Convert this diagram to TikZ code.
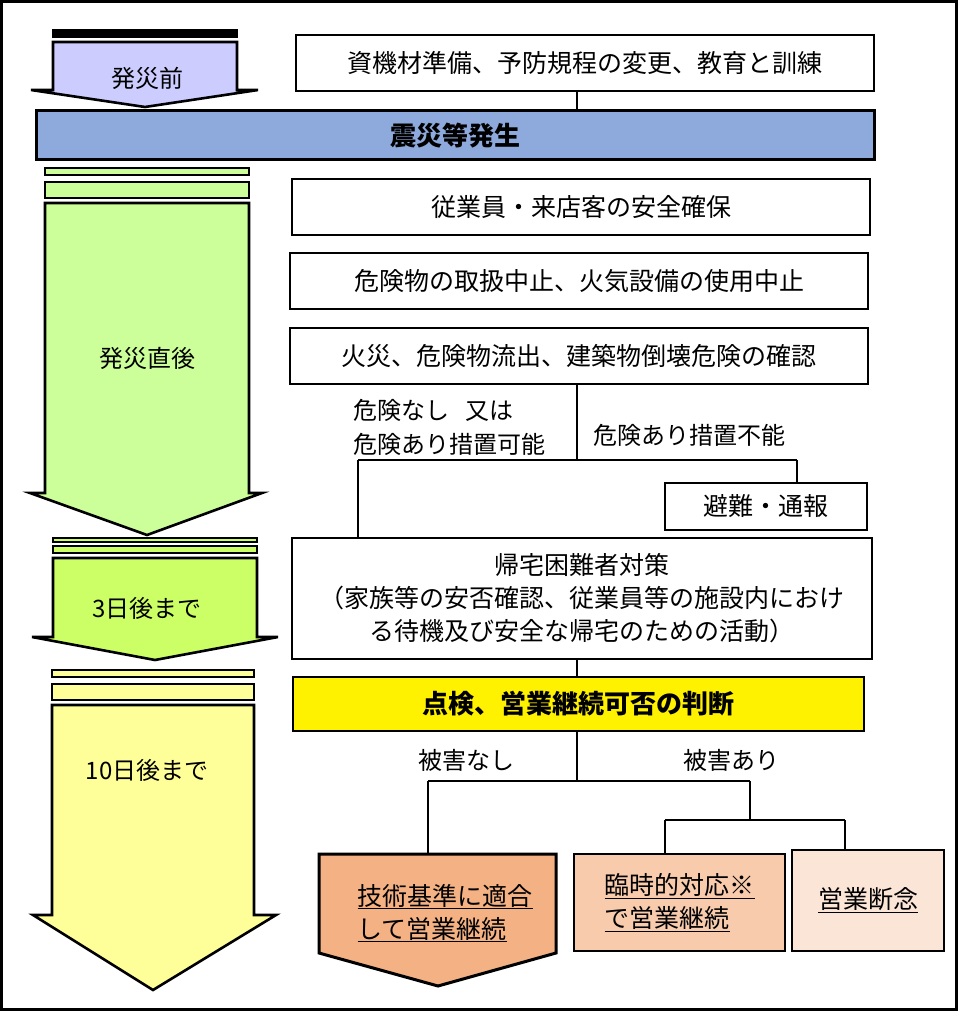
\documentclass[tikz,border=0pt]{standalone}
\usepackage{fontspec}
\setmainfont{Noto Sans CJK JP}
\usetikzlibrary{calc}
\definecolor{lav}{HTML}{CCCCFF}
\definecolor{lgreen}{HTML}{CCFF99}
\definecolor{mgreen}{HTML}{CCFF66}
\definecolor{lyellow}{HTML}{FFFF99}
\definecolor{band}{HTML}{8EA9DB}
\definecolor{orA}{HTML}{F4B183}
\definecolor{orB}{HTML}{F8CBAD}
\definecolor{orC}{HTML}{FBE5D6}
\newcommand{\phase}[9] % x1, x2, stripe top, body top, wing y, wx1, wx2, tip y, colour
{
	% stripes
	\draw[line width=2.6pt,fill=#9] (#1,#3) rectangle (#2,{#3+(#4-#3)*0.2});
	\draw[line width=2.6pt,fill=#9] (#1,{#3+(#4-#3)*0.4}) rectangle (#2,#4-5);
	% body with arrow head
	\draw[line width=2.6pt,fill=#9,line join=miter] (#1,#4) -- (#2,#4) -- (#2,#5) -- (#7,#5)
		-- ({(#1+#2)/2},#8) -- (#6,#5) -- (#1,#5) -- cycle;
}
\tikzset{
	box/.style={draw,line width=1.4pt,fill=white,font=\fontsize{25}{33}\selectfont,align=center,inner sep=0pt},
	wire/.style={line width=1.5pt},
	lbl/.style={font=\fontsize{24}{34}\selectfont,align=left,inner sep=0pt},
	tag/.style={font=\fontsize{24}{28}\selectfont,inner sep=0pt}
}
\begin{document}
\begin{tikzpicture}[x=1pt,y=-1pt]
	\useasboundingbox (0,0) rectangle (958,1011);
	\draw[line width=3pt] (1.5,1.5) rectangle (956.5,1009.5);
	% phases on the left
	\phase{53}{237}{30}{42}{90}{31}{258}{107}{lav}
	\phase{45}{249}{168}{203}{493}{30}{262}{535}{lgreen}
	\phase{53}{257}{538}{558}{637}{32}{278}{660}{mgreen}
	\phase{52}{254}{670}{705}{915}{33}{276}{990}{lyellow}
	\node[tag] (before) at (147,78) {発災前};
	\node[tag] (after) at (147,358) {発災直後};
	\node[tag] (three) at (147,608) {3日後まで};
	\node[tag] (ten) at (147,770) {10日後まで};
	% right column
	\coordinate (spine) at (577,0);
	\node[box,minimum width=578pt,minimum height=56pt] (prep) at (585,63) {資機材準備、予防規程の変更、教育と訓練};
	\node[box,line width=3pt,fill=band,minimum width=838pt,minimum height=49pt,font=\fontsize{26}{30}\selectfont\bfseries] (quake) at (455,135.5) {震災等発生};
	\node[box,minimum width=578pt,minimum height=56pt] (safety) at (581,207) {従業員・来店客の安全確保};
	\node[box,minimum width=578pt,minimum height=56pt] (stop) at (579,281) {危険物の取扱中止、火気設備の使用中止};
	\node[box,minimum width=578pt,minimum height=56pt] (check) at (579,356) {火災、危険物流出、建築物倒壊危険の確認};
	\node[lbl,anchor=west] (safe) at (353,427) {危険なし\hspace{16pt}又は\\危険あり措置可能};
	\node[lbl,anchor=west] (unsafe) at (593,435) {危険あり措置不能};
	\node[box,minimum width=202pt,minimum height=47pt] (evac) at (766,506.5) {避難・通報};
	\node[box,minimum width=580pt,minimum height=121pt] (home) at (582,598.5) {帰宅困難者対策\\（家族等の安否確認、従業員等の施設内におけ\\る待機及び安全な帰宅のための活動）};
	\node[box,fill=yellow,minimum width=571pt,minimum height=54pt,font=\fontsize{26}{30}\selectfont\bfseries] (judge) at (578.5,704) {点検、営業継続可否の判断};
	\node[lbl] (nodmg) at (466,760) {被害なし};
	\node[lbl] (dmg) at (731,760) {被害あり};
	\draw[line width=3pt,fill=orA,line join=miter] (319,854) coordinate (goTL) -- (556,854) -- (556,953) -- (438,986) -- (319,953) -- cycle;
	\node[box,draw=none,fill=none,align=left] (go) at (445,913) {\underline{技術基準に適合}\\\underline{して営業継続}};
	\node[box,fill=orB,minimum width=211pt,minimum height=97pt,align=left] (temp) at (679.5,902.5) {\underline{臨時的対応※}\\\underline{で営業継続}};
	\node[box,fill=orC,minimum width=152pt,minimum height=101pt] (quit) at (868,900.5) {\underline{営業断念}};
	% connectors
	\draw[wire] (prep.south -| spine) -- (quake.north -| spine);
	\coordinate (fork) at (577,460);
	\draw[wire] (check.south -| spine) -- (fork);
	\draw[wire] (358,460) -- (797,460);
	\draw[wire] (358,460) -- (home.north -| 358,0);
	\draw[wire] (797,460) -- (evac.north -| 797,0);
	\draw[wire] (home.south -| spine) -- (judge.north -| spine);
	\draw[wire] (judge.south -| spine) -- (577,781);
	\draw[wire] (428,781) -- (750,781);
	\draw[wire] (428,781) -- (goTL -| 428,0);
	\draw[wire] (750,781) -- (750,820);
	\draw[wire] (665,820) -- (845,820);
	\draw[wire] (665,820) -- (temp.north -| 665,0);
	\draw[wire] (845,820) -- (quit.north -| 845,0);
\end{tikzpicture}
\end{document}
